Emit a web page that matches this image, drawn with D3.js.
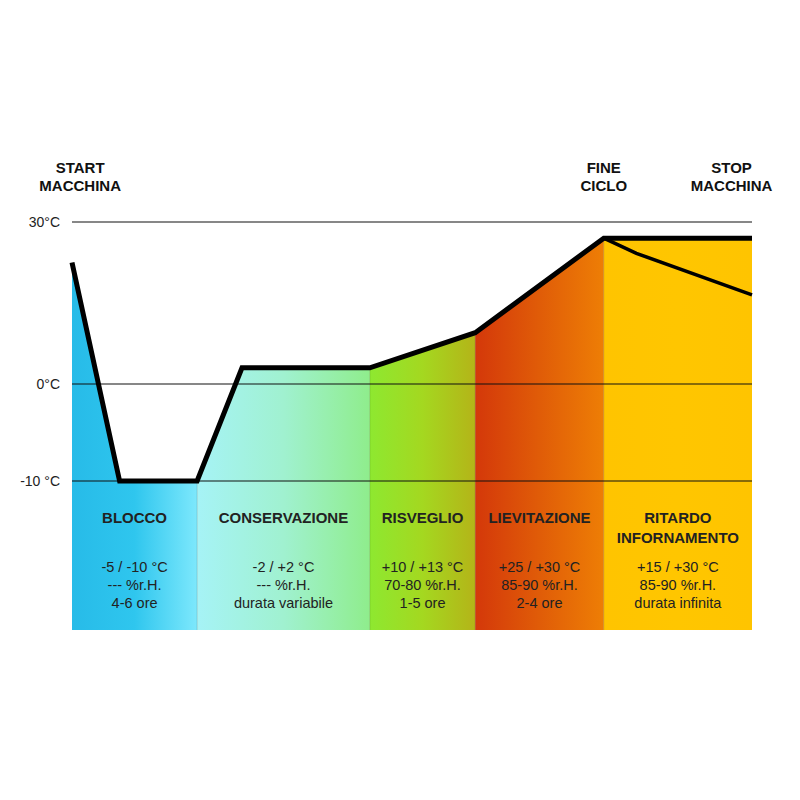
<!DOCTYPE html>
<html><head><meta charset="utf-8">
<script src="https://cdn.jsdelivr.net/npm/d3@7"></script>
<style>body{margin:0;background:#fff}</style>
</head><body>
<svg id="c" width="800" height="800"></svg>
<script>
// data
const phases = ["BLOCCO","CONSERVAZIONE","RISVEGLIO","LIEVITAZIONE","RITARDO\nINFORNAMENTO"];
const phaseStart = [0, 18.4, 43.8, 59.3, 78.2];
const phaseEnd   = [18.4, 43.8, 59.3, 78.2, 100];
const phaseTemp = ["-5 / -10 °C","-2 / +2 °C","+10 / +13 °C","+25 / +30 °C","+15 / +30 °C"];
const phaseRH   = ["--- %r.H.","--- %r.H.","70-80 %r.H.","85-90 %r.H.","85-90 %r.H."];
const phaseDur  = ["4-6 ore","durata variabile","1-5 ore","2-4 ore","durata infinita"];
const phaseColors = [["#27bbe8","#2fc6ee","#7de8fc"],["#a6f3f6","#a0f1d0","#8fed8c"],["#8ee830","#a4d820","#b4b418"],["#d4380a","#e05c08","#ee7e05"],["#ffc400","#ffc600","#ffc400"]];
const profileX = [0, 7, 18.4, 25, 43.8, 59.3, 78.2, 100];
const profileT = [22.5, -10, -10, 3, 3, 9.5, 27, 27];
const coolX = [78.2, 83, 100];
const coolT = [27, 24.2, 16.5];
const tickT = [30, 0, -10];
const tickLabels = ["30°C","0°C","-10 °C"];
const markers = [["START","MACCHINA"],["FINE","CICLO"],["STOP","MACCHINA"]];
const markerX = [1.2, 78.2, 97];

const svg = d3.select("#c");
const x = d3.scaleLinear().domain([0,100]).range([72,752]);
const y = d3.scaleLinear().domain([-25,-10,0,30]).range([630,481,384,222]);
const defs = svg.append("defs");
phaseColors.forEach((cs,i)=>{
  const g = defs.append("linearGradient").attr("id","g"+i).attr("x1","0").attr("x2","1").attr("y1","0").attr("y2","0");
  cs.forEach((c,j)=>g.append("stop").attr("offset",(j/(cs.length-1)*100)+"%").attr("stop-color",c));
});
const pts = profileX.map((v,i)=>[v,profileT[i]]);
defs.append("clipPath").attr("id","clip").append("path")
  .attr("d", d3.area().x(d=>x(d[0])).y0(y(-25)).y1(d=>y(d[1]))(pts));
const bands = svg.append("g").attr("clip-path","url(#clip)");
phases.forEach((p,i)=>{
  bands.append("rect").attr("x",x(phaseStart[i])).attr("width",x(phaseEnd[i])-x(phaseStart[i]))
    .attr("y",y(30)).attr("height",y(-25)-y(30)).attr("fill","url(#g"+i+")");
  if(i>0) bands.append("line").attr("x1",x(phaseStart[i])).attr("x2",x(phaseStart[i]))
    .attr("y1",y(30)).attr("y2",y(-25)).attr("stroke","#000").attr("stroke-opacity",0.15);
});
// grid lines
tickT.forEach((t,i)=>{
  svg.append("line").attr("x1",x(0)).attr("x2",x(100)).attr("y1",y(t)).attr("y2",y(t)).attr("stroke","#111").attr("stroke-width",1.2);
  svg.append("text").attr("x",60).attr("y",y(t)+5).attr("text-anchor","end")
    .attr("font-family","Liberation Sans, Arial").attr("font-size",14).attr("fill","#222").text(tickLabels[i]);
});
// profile
const line = d3.line().x(d=>x(d[0])).y(d=>y(d[1]));
svg.append("path").attr("d",line(pts)).attr("fill","none").attr("stroke","#000").attr("stroke-width",5).attr("stroke-linejoin","miter");
svg.append("path").attr("d",line(coolX.map((v,i)=>[v,coolT[i]]))).attr("fill","none").attr("stroke","#000").attr("stroke-width",3.5);
// phase texts
phases.forEach((p,i)=>{
  const cx = (x(phaseStart[i])+x(phaseEnd[i]))/2;
  const t = svg.append("g").attr("font-family","Liberation Sans, Arial").attr("text-anchor","middle").attr("fill","#222");
  p.split("\n").forEach((s,k)=>t.append("text").attr("x",cx).attr("y",523+k*20).attr("font-weight","bold").attr("font-size",15).text(s));
  [phaseTemp[i],phaseRH[i],phaseDur[i]].forEach((s,k)=>t.append("text").attr("x",cx).attr("y",572+k*18).attr("font-size",14.5).text(s));
});
// markers
markers.forEach((m,i)=>{
  m.forEach((s,k)=>svg.append("text").attr("x",x(markerX[i])).attr("y",173+k*18).attr("text-anchor","middle")
    .attr("font-family","Liberation Sans, Arial").attr("font-weight","bold").attr("font-size",15).attr("fill","#111").text(s));
});
</script>
</body></html>
